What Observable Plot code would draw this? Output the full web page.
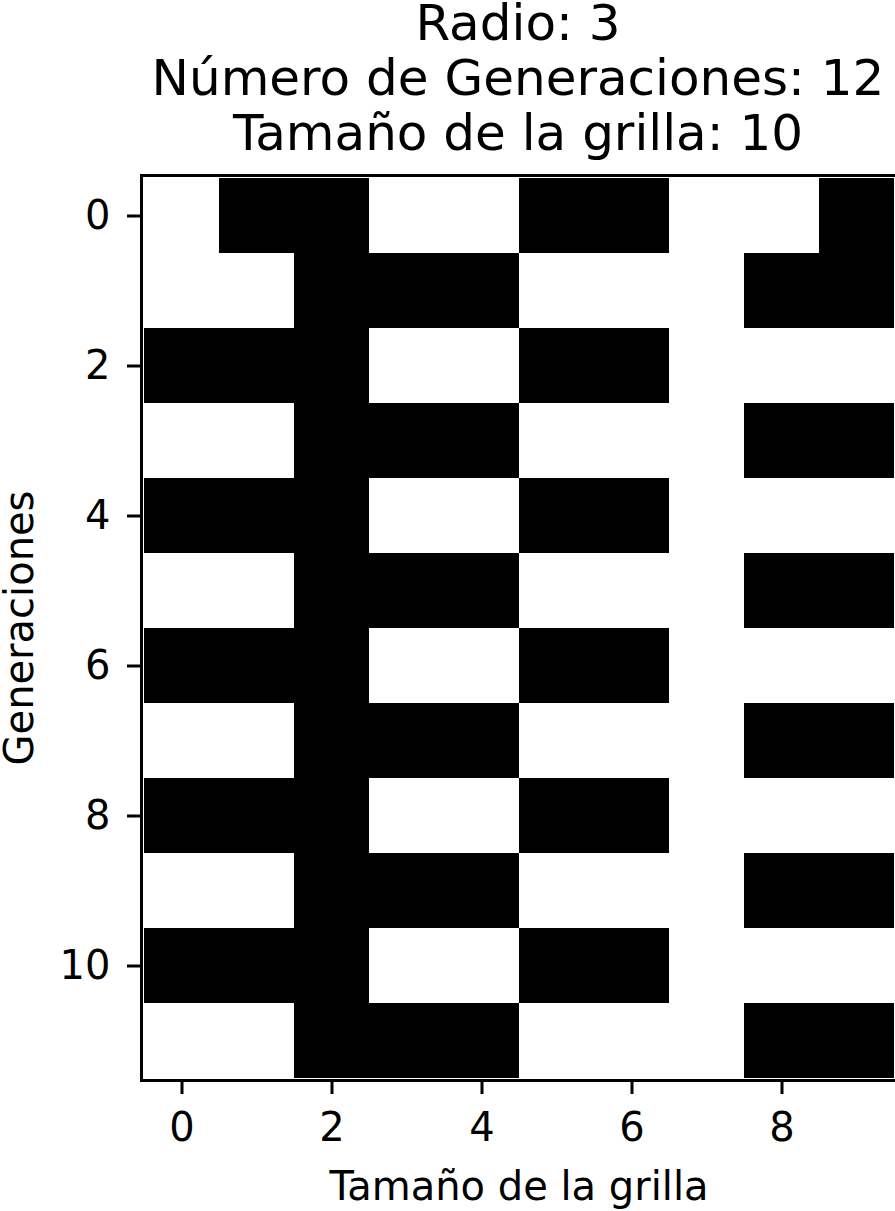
<!DOCTYPE html>
<html>
<head>
<meta charset="utf-8">
<script src="https://cdn.jsdelivr.net/npm/d3@7"></script>
<script src="https://cdn.jsdelivr.net/npm/@observablehq/plot@0.6"></script>
<style>
  html, body { margin: 0; padding: 0; background: white; }
  body { width: 895px; height: 1211px; overflow: hidden; font-family: "DejaVu Sans", sans-serif; color: black; }
  #title { position: relative; height: 165px; width: 895px; }
  #title div { position: absolute; left: 141px; width: 754px; text-align: center; font-size: 50px; line-height: 44px; white-space: nowrap; }
  svg { display: block; }
</style>
</head>
<body>
<div id="title"></div>
<div id="chart"></div>
<script>
// Title lines
const titleLines = ["Radio: 3", "Número de Generaciones: 12", "Tamaño de la grilla: 10"];
// Column (grid position) and generation indices
const columns = [0, 1, 2, 3, 4, 5, 6, 7, 8, 9];
const generations = [0, 1, 2, 3, 4, 5, 6, 7, 8, 9, 10, 11];
// Cell states per generation (1 = black, 0 = white)
const grid = [
  [0, 1, 1, 0, 0, 1, 1, 0, 0, 1],
  [0, 0, 1, 1, 1, 0, 0, 0, 1, 1],
  [1, 1, 1, 0, 0, 1, 1, 0, 0, 0],
  [0, 0, 1, 1, 1, 0, 0, 0, 1, 1],
  [1, 1, 1, 0, 0, 1, 1, 0, 0, 0],
  [0, 0, 1, 1, 1, 0, 0, 0, 1, 1],
  [1, 1, 1, 0, 0, 1, 1, 0, 0, 0],
  [0, 0, 1, 1, 1, 0, 0, 0, 1, 1],
  [1, 1, 1, 0, 0, 1, 1, 0, 0, 0],
  [0, 0, 1, 1, 1, 0, 0, 0, 1, 1],
  [1, 1, 1, 0, 0, 1, 1, 0, 0, 0],
  [0, 0, 1, 1, 1, 0, 0, 0, 1, 1]
];
// Tick labels
const xTicks = [0, 2, 4, 6, 8];
const yTicks = [0, 2, 4, 6, 8, 10];
const xLabel = "Tamaño de la grilla";
const yLabel = "Generaciones";

const titleEl = document.getElementById("title");
titleLines.forEach((t, i) => {
  const d = document.createElement("div");
  d.textContent = t;
  d.style.top = (1 + i * 55) + "px";
  titleEl.appendChild(d);
});

const cells = [];
generations.forEach((g, gi) => {
  columns.forEach((c, ci) => {
    cells.push({gen: g, col: c, state: grid[gi][ci]});
  });
});

const chart = Plot.plot({
  width: 895,
  height: 1046,
  marginTop: 10,
  marginBottom: 131,
  marginLeft: 141,
  marginRight: -1,
  style: {fontFamily: "DejaVu Sans, sans-serif", fontSize: "40px", color: "black", background: "white"},
  x: {type: "band", domain: columns, padding: 0, axis: null},
  y: {type: "band", domain: generations, padding: 0, axis: null},
  color: {type: "ordinal", domain: [0, 1], range: ["white", "black"]},
  marks: [
    Plot.cell(cells, {x: "col", y: "gen", fill: "state", shapeRendering: "crispEdges"}),
    Plot.frame({stroke: "black", strokeWidth: 3}),
    Plot.axisX({ticks: xTicks, tickSize: 14, tickPadding: 18, fontSize: 40, strokeWidth: 3, label: null, anchor: "bottom"}),
    Plot.axisY({ticks: yTicks, tickSize: 14, tickPadding: 17, fontSize: 40, strokeWidth: 3, label: null, anchor: "left"}),
    Plot.text([xLabel], {frameAnchor: "bottom", lineAnchor: "middle", textAnchor: "middle", dy: 107, fontSize: 40, fill: "black"}),
    Plot.text([yLabel], {frameAnchor: "left", lineAnchor: "middle", textAnchor: "middle", dx: -121, rotate: -90, fontSize: 40, fill: "black"})
  ]
});
document.getElementById("chart").appendChild(chart);
</script>
</body>
</html>
